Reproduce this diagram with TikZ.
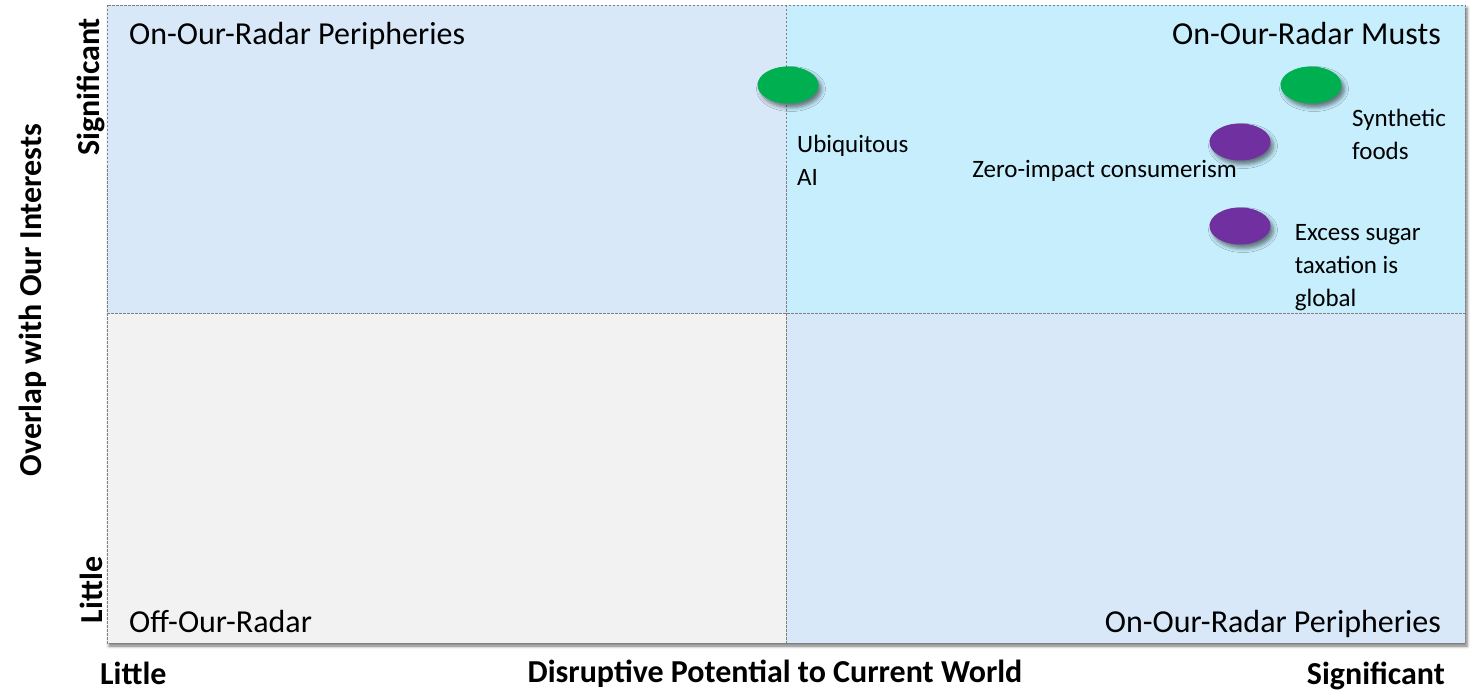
\documentclass[tikz,border=0pt]{standalone}
\usepackage{fontspec}
\setmainfont{Carlito}
\usepackage{xcolor}
\usetikzlibrary{positioning, shapes.geometric, shadows.blur}

\definecolor{periblue}{HTML}{D8E8F9}
\definecolor{mustblue}{HTML}{C6EEFD}
\definecolor{offgrey}{HTML}{F2F2F2}
\definecolor{trendgreen}{HTML}{00B050}
\definecolor{trendpurple}{HTML}{7030A0}

\tikzset{
  divider/.style={draw=gray, dashed, line width=0.6pt, dash pattern=on 2.5pt off 1.5pt},
  trend/.style={ellipse, minimum width=61pt, minimum height=37pt, inner sep=0pt,
    blur shadow={shadow xshift=3pt, shadow yshift=-4pt, shadow blur radius=4pt, shadow opacity=50}},
  trendlabel/.style={inner sep=0pt, align=left, font=\fontsize{25}{33}\selectfont},
  quadlabel/.style={inner sep=0pt, font=\fontsize{32}{38}\selectfont},
  axislabel/.style={inner sep=0pt, font=\fontsize{32}{38}\selectfont\bfseries}
}

\begin{document}
\begin{tikzpicture}[x=1pt, y=-1pt]
\useasboundingbox (0,0) rectangle (1478,690);

% quadrant grid
\fill[white, blur shadow={shadow xshift=2pt, shadow yshift=-3pt, shadow blur radius=3pt, shadow opacity=55}] (107,5) rectangle (1465,643);
\fill[periblue] (107,5) rectangle (786,313);
\fill[mustblue] (786,5) rectangle (1465,313);
\fill[offgrey] (107,313) rectangle (786,643);
\fill[periblue] (786,313) rectangle (1465,643);
\draw[divider] (107,5) rectangle (1465,643);
\draw[divider] (786,5) -- (786,643);
\draw[divider] (107,313) -- (1465,313);

\node[quadlabel, anchor=base west] (tl) at (129,45) {On-Our-Radar Peripheries};
\node[quadlabel, anchor=base east] (tr) at (1441,45) {On-Our-Radar Musts};
\node[quadlabel, anchor=base west] (bl) at (129,632) {Off-Our-Radar};
\node[quadlabel, anchor=base east] (br) at (1441,632) {On-Our-Radar Peripheries};

% axes
\node[axislabel, anchor=base west] (xlow) at (100,684) {Little};
\node[axislabel, anchor=base] (xtitle) at (775,682) {Disruptive Potential to Current World};
\node[axislabel, anchor=base east] (xhigh) at (1445,684) {Significant};
\node[axislabel, rotate=90] (ytitle) at (33,300) {Overlap with Our Interests};
\node[axislabel, rotate=90] (yhigh) at (91,87) {Significant};
\node[axislabel, rotate=90] (ylow) at (91,590) {Little};

% trends
\node[trend, fill=trendgreen] (ai) at (788,85) {};
\node[trend, fill=trendgreen] (synth) at (1311,85) {};
\node[trend, fill=trendpurple] (zero) at (1240,142) {};
\node[trend, fill=trendpurple] (sugar) at (1240,226) {};

\node[trendlabel, below right=31pt and 9pt of ai.south] (ailbl) {Ubiquitous\\AI};
\node[trendlabel, below right=5pt and 41pt of synth.south] (synthlbl) {Synthetic\\foods};
\node[trendlabel, anchor=base east] (zerolbl) at (1237,177) {Zero-impact consumerism};
\node[trendlabel, below right=-2pt and 24pt of sugar.east] (sugarlbl) {Excess sugar\\taxation is\\global};
\end{tikzpicture}
\end{document}
